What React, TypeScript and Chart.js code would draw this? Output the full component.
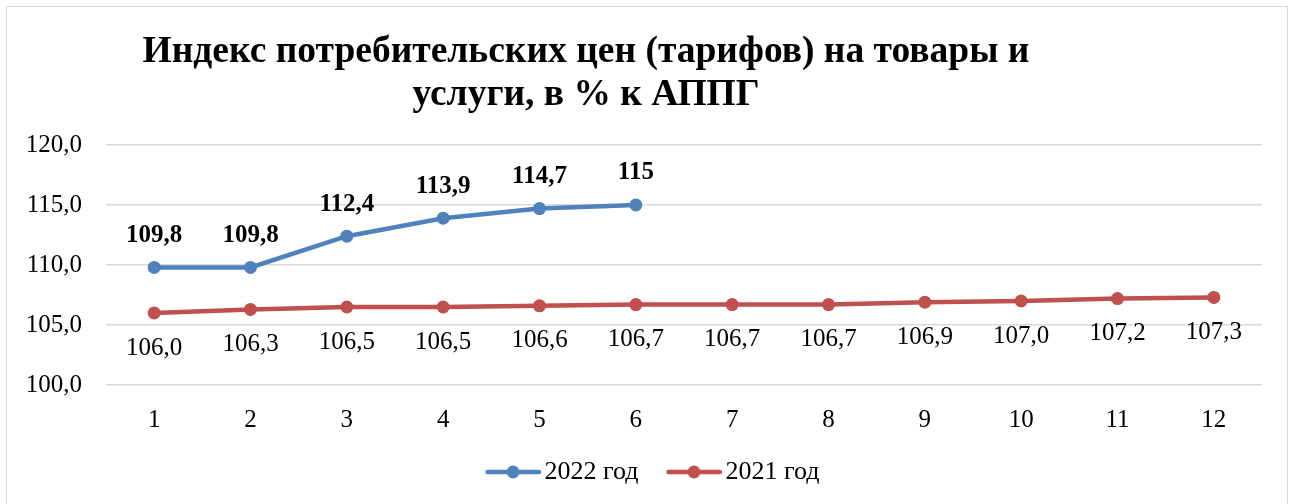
import React, { useEffect, useRef } from "react";
import { Chart, registerables } from "chart.js";

Chart.register(...registerables);

const categories = ["1", "2", "3", "4", "5", "6", "7", "8", "9", "10", "11", "12"];
const series2022 = [109.8, 109.8, 112.4, 113.9, 114.7, 115.0];
const labels2022 = ["109,8", "109,8", "112,4", "113,9", "114,7", "115"];
const series2021 = [106.0, 106.3, 106.5, 106.5, 106.6, 106.7, 106.7, 106.7, 106.9, 107.0, 107.2, 107.3];
const labels2021 = ["106,0", "106,3", "106,5", "106,5", "106,6", "106,7", "106,7", "106,7", "106,9", "107,0", "107,2", "107,3"];
const titleLines = ["Индекс потребительских цен (тарифов) на товары и", "услуги, в % к АППГ"];
const seriesNames = ["2022 год", "2021 год"];

const BLUE = "#4f81bd";
const RED = "#c0504d";
const FONT = '"Liberation Serif", "DejaVu Serif", serif';

function legendImage(color: string) {
  const c = document.createElement("canvas");
  c.width = 88;
  c.height = 14;
  const ctx = c.getContext("2d")!;
  ctx.strokeStyle = color;
  ctx.lineWidth = 4.5;
  ctx.lineCap = "round";
  ctx.beginPath();
  ctx.moveTo(35, 7);
  ctx.lineTo(86, 7);
  ctx.stroke();
  ctx.fillStyle = color;
  ctx.beginPath();
  ctx.arc(60.5, 7, 6.5, 0, Math.PI * 2);
  ctx.fill();
  return c;
}

const titlePlugin = {
  id: "customTitle",
  afterDraw(chart: any) {
    const ctx = chart.ctx;
    ctx.save();
    ctx.fillStyle = "#000";
    ctx.font = `bold 37.5px ${FONT}`;
    ctx.textAlign = "center";
    ctx.textBaseline = "alphabetic";
    ctx.fillText(titleLines[0], 579, 55);
    ctx.fillText(titleLines[1], 579, 98);
    ctx.restore();
  },
};

const legendShiftPlugin = {
  id: "legendShift",
  afterLayout(chart: any) {
    const lg = chart.legend;
    if (lg) {
      lg.left += 6;
      lg.right += 6;
    }
  },
};

const dataLabelPlugin = {
  id: "dataLabels",
  afterDatasetsDraw(chart: any) {
    const ctx = chart.ctx;
    const sets = [
      { idx: 0, labels: labels2022, dy: -32, bold: true },
      { idx: 1, labels: labels2021, dy: 35, bold: false },
    ];
    ctx.save();
    ctx.fillStyle = "#000";
    ctx.textAlign = "center";
    ctx.textBaseline = "middle";
    for (const s of sets) {
      const meta = chart.getDatasetMeta(s.idx);
      ctx.font = `${s.bold ? "bold " : ""}25px ${FONT}`;
      meta.data.forEach((pt: any, i: number) => {
        if (s.labels[i] == null) return;
        ctx.fillText(s.labels[i], pt.x, pt.y + s.dy);
      });
    }
    ctx.restore();
  },
};

export default function App() {
  const ref = useRef<HTMLCanvasElement>(null);
  useEffect(() => {
    if (!ref.current) return;
    const imgs = [legendImage(BLUE), legendImage(RED)];
    const chart = new Chart(ref.current, {
      type: "line",
      data: {
        labels: categories,
        datasets: [
          {
            label: seriesNames[0],
            data: series2022,
            borderColor: BLUE,
            backgroundColor: BLUE,
            borderWidth: 4.5,
            pointRadius: 6.5,
            pointBorderWidth: 0,
            pointBackgroundColor: BLUE,
            tension: 0,
          },
          {
            label: seriesNames[1],
            data: series2021,
            borderColor: RED,
            backgroundColor: RED,
            borderWidth: 4.5,
            pointRadius: 6.5,
            pointBorderWidth: 0,
            pointBackgroundColor: RED,
            tension: 0,
          },
        ],
      },
      options: {
        responsive: false,
        animation: false,
        layout: { padding: { top: 138, left: 0, right: 25, bottom: 9 } },
        plugins: {
          title: { display: false },
          tooltip: { enabled: false },
          legend: {
            display: true,
            position: "bottom",
            labels: {
              usePointStyle: true,
              pointStyleWidth: 70,
              padding: 4,
              color: "#000",
              font: { family: FONT, size: 26 },
              generateLabels: (ch: any) =>
                ch.data.datasets.map((d: any, i: number) => ({
                  text: d.label,
                  pointStyle: imgs[i],
                  fillStyle: d.borderColor,
                  strokeStyle: d.borderColor,
                  lineWidth: 0,
                  hidden: false,
                  datasetIndex: i,
                })),
            },
          },
        },
        scales: {
          x: {
            offset: true,
            grid: { display: false, drawTicks: false },
            border: { display: false },
            ticks: { color: "#000", padding: 20, font: { family: FONT, size: 25 } },
          },
          y: {
            min: 100,
            max: 120,
            grid: { color: "#d9d9d9", lineWidth: 1.5, drawTicks: false },
            border: { display: false },
            ticks: {
              stepSize: 5,
              padding: 24,
              color: "#000",
              font: { family: FONT, size: 25 },
              callback: (v: any) => Number(v).toFixed(1).replace(".", ","),
            },
            afterFit: (s: any) => {
              s.width = 99;
            },
          },
        },
      },
      plugins: [titlePlugin, dataLabelPlugin, legendShiftPlugin],
    } as any);
    return () => chart.destroy();
  }, []);
  return (
    <div
      style={{
        position: "fixed",
        left: 0,
        top: 0,
        width: 1297,
        height: 504,
        background: "#fff",
        overflow: "hidden",
      }}
    >
      <div
        style={{
          position: "absolute",
          left: 6,
          top: 6,
          width: 1280,
          height: 520,
          border: "1px solid #d9d9d9",
          background: "#fff",
        }}
      >
        <canvas ref={ref} width={1280} height={497} style={{ display: "block", width: 1280, height: 497 }} />
      </div>
    </div>
  );
}
